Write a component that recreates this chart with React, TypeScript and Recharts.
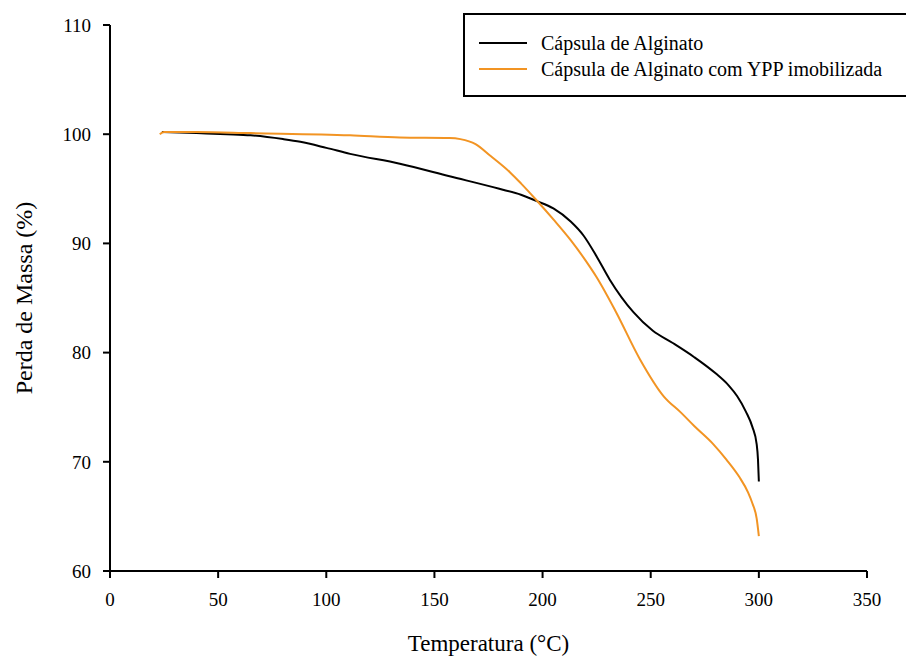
import React from "react";
import { LineChart, Line, XAxis, YAxis, Legend } from "recharts";

// temperature (°C) / mass (%)
const alginatoTemp = [24, 40, 54, 65, 80, 88, 100, 111, 134, 157, 180, 190, 197, 205, 213, 219, 225, 231, 242, 251, 260, 270, 280, 286, 290, 294, 297, 299, 299.6, 300];
const alginatoMass = [100.2, 100.1, 100.0, 99.9, 99.55, 99.3, 98.75, 98.2, 97.3, 96.15, 95.0, 94.45, 93.9, 93.2, 92.0, 90.7, 88.8, 86.7, 83.7, 82.0, 80.9, 79.6, 78.1, 77.0, 76.0, 74.6, 73.2, 71.6, 70.2, 68.2];

const yppTemp = [23, 25, 40, 65, 111, 134, 157, 162, 169, 176, 185, 190, 197, 205, 213, 220, 225, 234, 245, 256, 264, 270, 279, 285, 291, 295, 297, 299, 300];
const yppMass = [100.0, 100.2, 100.2, 100.1, 99.9, 99.7, 99.65, 99.55, 99.1, 98.0, 96.5, 95.5, 94.0, 92.2, 90.3, 88.4, 86.9, 83.7, 79.4, 76.0, 74.5, 73.3, 71.6, 70.2, 68.6, 67.2, 66.2, 64.8, 63.2];

const xTicks = [0, 50, 100, 150, 200, 250, 300, 350];
const yTicks = [60, 70, 80, 90, 100, 110];

const SERIES = [
    { name: "Cápsula de Alginato", color: "#000000" },
    { name: "Cápsula de Alginato com YPP imobilizada", color: "#F29423" },
];

const FONT = '"Liberation Serif", "Times New Roman", serif';

const alginatoData = alginatoTemp.map((t, i) => ({ t, m: alginatoMass[i] }));
const yppData = yppTemp.map((t, i) => ({ t, m: yppMass[i] }));

const BoxLegend = () => (
    <div
        style={{
            border: "2px solid #000",
            borderRight: "none",
            width: 445,
            height: 84,
            boxSizing: "border-box",
            paddingTop: 15,
            fontFamily: FONT,
            fontSize: 20,
            color: "#000",
        }}
    >
        {SERIES.map((s) => (
            <div key={s.name} style={{ display: "flex", alignItems: "center", height: 26 }}>
                <svg width={76} height={10} style={{ marginLeft: 14 }}>
                    <line x1={0} y1={5} x2={48} y2={5} stroke={s.color} strokeWidth={2} />
                </svg>
                <span style={{ marginLeft: -14, whiteSpace: "nowrap" }}>{s.name}</span>
            </div>
        ))}
    </div>
);

export default function App() {
    return (
        <div
            style={{
                position: "absolute",
                left: 0,
                top: 0,
                width: 906,
                height: 659,
                overflow: "hidden",
                background: "#fff",
                fontFamily: FONT,
            }}
        >
            <LineChart
                width={906}
                height={659}
                margin={{ top: 25, right: 39, left: 50, bottom: 38 }}
                style={{ fontFamily: FONT }}
            >
                <XAxis
                    type="number"
                    dataKey="t"
                    domain={[0, 350]}
                    ticks={xTicks}
                    height={50}
                    axisLine={{ stroke: "#000", strokeWidth: 2 }}
                    tickLine={{ stroke: "#000", strokeWidth: 2 }}
                    tickSize={7}
                    tickMargin={15}
                    tick={{ fill: "#000", fontSize: 19, fontFamily: FONT }}
                    label={{
                        value: "Temperatura (°C)",
                        position: "bottom",
                        offset: 14,
                        style: { fill: "#000", fontSize: 23, fontFamily: FONT },
                    }}
                />
                <YAxis
                    type="number"
                    domain={[60, 110]}
                    ticks={yTicks}
                    width={60}
                    axisLine={{ stroke: "#000", strokeWidth: 2 }}
                    tickLine={{ stroke: "#000", strokeWidth: 2 }}
                    tickSize={7}
                    tickMargin={12}
                    tick={{ fill: "#000", fontSize: 19, fontFamily: FONT }}
                    label={{
                        value: "Perda de Massa (%)",
                        angle: -90,
                        position: "insideLeft",
                        offset: -27,
                        style: { fill: "#000", fontSize: 24, fontFamily: FONT, textAnchor: "middle" },
                    }}
                />
                <Legend
                    layout="horizontal"
                    verticalAlign="middle"
                    align="center"
                    content={<BoxLegend />}
                    wrapperStyle={{ position: "absolute", left: 463, top: 13, width: 445, height: 84 }}
                />
                <Line
                    data={alginatoData}
                    dataKey="m"
                    name={SERIES[0].name}
                    type="monotone"
                    stroke={SERIES[0].color}
                    strokeWidth={2}
                    dot={false}
                    isAnimationActive={false}
                />
                <Line
                    data={yppData}
                    dataKey="m"
                    name={SERIES[1].name}
                    type="monotone"
                    stroke={SERIES[1].color}
                    strokeWidth={2}
                    dot={false}
                    isAnimationActive={false}
                />
            </LineChart>
        </div>
    );
}
